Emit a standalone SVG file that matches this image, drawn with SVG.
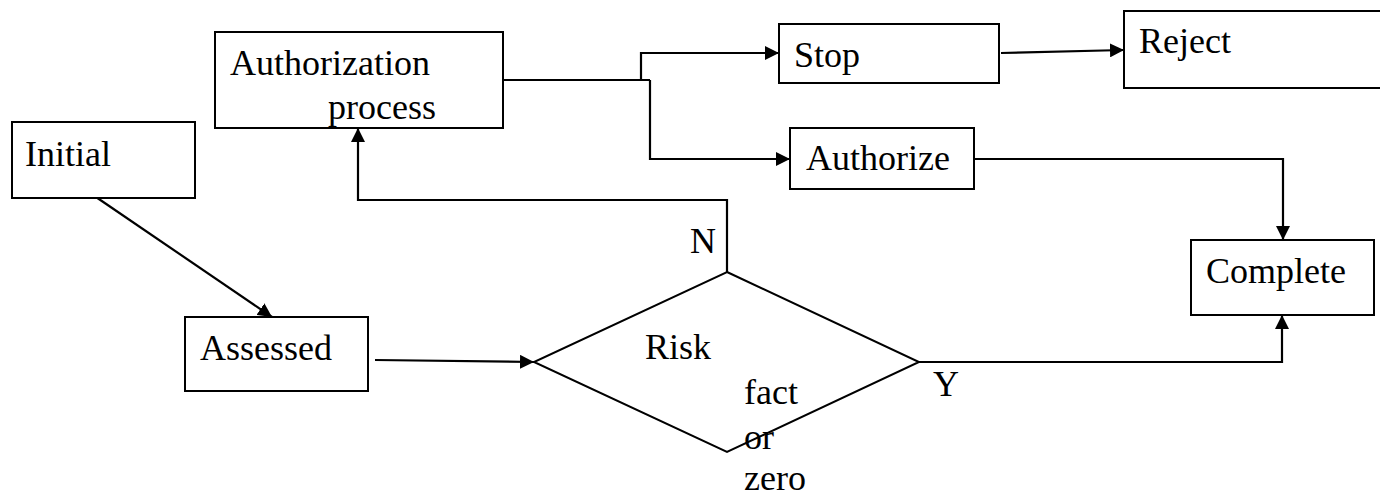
<svg xmlns="http://www.w3.org/2000/svg" width="1380" height="496" viewBox="0 0 1380 496">
<style>
.box{fill:#fff;stroke:#000;stroke-width:2}
.t{font-family:"Liberation Serif","Times New Roman",serif;font-size:36px;fill:#000}
.c{fill:none;stroke:#000;stroke-width:2.2}
</style>
<defs>
<marker id="ah" markerUnits="userSpaceOnUse" viewBox="0 0 14 14" markerWidth="14" markerHeight="14" refX="14" refY="7" orient="auto">
<path d="M0,0 L14,7 L0,14 Z" fill="#000"/>
</marker>
</defs>
<rect width="1380" height="496" fill="#fff"/>
<g id="connectors">
<line class="c" x1="93" y1="195" x2="272" y2="317" marker-end="url(#ah)"/>
<line class="c" x1="375" y1="360" x2="534" y2="362" marker-end="url(#ah)"/>
<polyline class="c" points="727,272 727,200 358,200 358,128" marker-end="url(#ah)"/>
<line class="c" x1="503" y1="80" x2="650" y2="80"/>
<polyline class="c" points="641,80 641,53 779,53" marker-end="url(#ah)"/>
<polyline class="c" points="650,80 650,159 790,159" marker-end="url(#ah)"/>
<line class="c" x1="1001" y1="53" x2="1124" y2="50" marker-end="url(#ah)"/>
<polyline class="c" points="974,159 1283,159 1283,240" marker-end="url(#ah)"/>
<polyline class="c" points="919,362 1282,362 1282,315" marker-end="url(#ah)"/>
</g>
<g id="initial">
<rect class="box" x="12" y="122" width="183" height="76"/>
<text class="t" x="25" y="166">Initial</text>
</g>
<g id="authorization">
<rect class="box" x="215" y="32" width="288" height="96"/>
<text class="t" x="230" y="75">Authorization</text>
<text class="t" x="328" y="119">process</text>
</g>
<g id="stop">
<rect class="box" x="779" y="24" width="220" height="59"/>
<text class="t" x="794" y="67">Stop</text>
</g>
<g id="reject">
<rect class="box" x="1124" y="11" width="270" height="77"/>
<text class="t" x="1139" y="53">Reject</text>
</g>
<g id="authorize">
<rect class="box" x="790" y="128" width="184" height="61"/>
<text class="t" x="806" y="170">Authorize</text>
</g>
<g id="complete">
<rect class="box" x="1191" y="240" width="183" height="75"/>
<text class="t" x="1206" y="283">Complete</text>
</g>
<g id="assessed">
<rect class="box" x="185" y="317" width="183" height="74"/>
<text class="t" x="200" y="360">Assessed</text>
</g>
<g id="risk">
<polygon class="box" points="727,272 919,362 727,452 534,362"/>
<text class="t" x="645" y="359">Risk</text>
<text class="t" x="744" y="404">fact</text>
<text class="t" x="744" y="449">or</text>
<text class="t" x="744" y="490">zero</text>
</g>
<g id="labels">
<text class="t" x="690" y="253">N</text>
<text class="t" x="933" y="396">Y</text>
</g>
</svg>
